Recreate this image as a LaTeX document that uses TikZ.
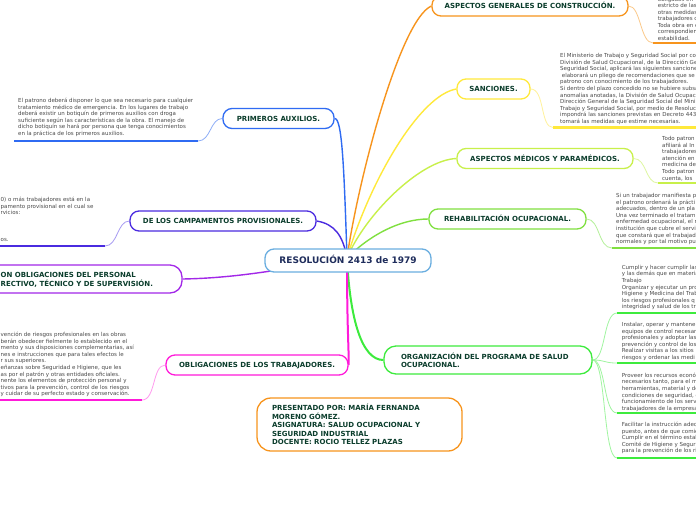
\documentclass[tikz,border=0pt]{standalone}
\usepackage{fontspec}
\setmainfont{DejaVu Sans}
\usetikzlibrary{backgrounds}
\definecolor{cOrange}{HTML}{F7941D}
\definecolor{cOrangeL}{HTML}{FBC98A}
\definecolor{cYellow}{HTML}{FFE93B}
\definecolor{cYellowL}{HTML}{FFF29A}
\definecolor{cLime}{HTML}{C8F04A}
\definecolor{cLimeL}{HTML}{DDF7A0}
\definecolor{cGreen}{HTML}{80E040}
\definecolor{cGreenL}{HTML}{B5F09A}
\definecolor{cBright}{HTML}{3DEB3D}
\definecolor{cBrightL}{HTML}{A0F5A0}
\definecolor{cBlue}{HTML}{2F6BF2}
\definecolor{cBlueL}{HTML}{8EAEF7}
\definecolor{cIndigo}{HTML}{4A2BE0}
\definecolor{cIndigoL}{HTML}{A79BF2}
\definecolor{cPurple}{HTML}{A227E8}
\definecolor{cMagenta}{HTML}{FF1AD9}
\definecolor{cMagentaL}{HTML}{FF9BEF}
\definecolor{cCenter}{HTML}{6AAEE0}
\definecolor{ttl}{HTML}{0B3D2C}
\definecolor{navy}{HTML}{1F2D5C}
\definecolor{bodyc}{HTML}{4A4A4A}
\newcommand\bodyfnt{\fontsize{5.5pt}{6.55pt}\selectfont}
\newcommand\ttlfnt{\fontsize{7pt}{8.5pt}\selectfont\bfseries}
\newcommand\firststrut{\rule{0pt}{5pt}}
\begin{document}
\begin{tikzpicture}[x=1pt,y=-1pt,
  topic/.style={draw, line width=1.3pt, rounded corners=9pt, fill=white, font=\ttlfnt, text=ttl, inner sep=0pt, minimum height=20pt, text height=5.1pt, text depth=0pt},
  multitopic/.style={draw, line width=1.3pt, fill=white, font=\ttlfnt, text=ttl, align=left, inner ysep=0pt},
  body/.style={anchor=north west, inner sep=0pt, align=left, font=\bodyfnt, text=bodyc},
  branch/.style={line width=1.4pt},
  thickbranch/.style={line width=2pt},
  sub/.style={line width=0.8pt},
  uline/.style={line width=2.2pt}
]
\useasboundingbox (0,0) rectangle (696,520);

% ---------- topic nodes ----------
\node[topic, draw=cOrange, minimum width=196pt] (gen) at (530,6) {ASPECTOS GENERALES DE CONSTRUCCIÓN.};
\node[topic, draw=cYellow, minimum width=73pt] (sanc) at (493.5,89) {SANCIONES.};
\node[topic, draw=cLime, minimum width=176pt] (med) at (545,158.5) {ASPECTOS MÉDICOS Y PARAMÉDICOS.};
\node[topic, draw=cGreen, minimum width=157pt] (rehab) at (507.5,219) {REHABILITACIÓN OCUPACIONAL.};
\node[multitopic, draw=cBright, rounded corners=12pt, text width=174pt, inner xsep=17pt, minimum height=28pt, font=\fontsize{7pt}{8pt}\selectfont\bfseries] (org) at (488,360) {ORGANIZACIÓN DEL PROGRAMA DE SALUD\\OCUPACIONAL.};
\node[multitopic, draw=cOrange, rounded corners=14pt, text width=175pt, inner xsep=15pt, minimum height=53pt] (pres) at (359.5,424.5) {PRESENTADO POR: MARÍA FERNANDA\\MORENO GÓMEZ.\\ASIGNATURA: SALUD OCUPACIONAL Y\\SEGURIDAD INDUSTRIAL\\DOCENTE: ROCIO TELLEZ PLAZAS};
\node[topic, draw=cBlue, minimum width=111pt] (prim) at (278.5,118.5) {PRIMEROS AUXILIOS.};
\node[topic, draw=cIndigo, minimum width=186pt] (camp) at (223,221) {DE LOS CAMPAMENTOS PROVISIONALES.};
\node[multitopic, draw=cPurple, rounded corners=12pt, minimum width=222pt, minimum height=28pt] (pers) at (71,279) {};
\node[anchor=north west, inner sep=0pt, align=left, font=\fontsize{7pt}{9pt}\selectfont\bfseries, text=ttl] (perstext) at (0.5,271) {\rule{0pt}{6.5pt}ON OBLIGACIONES DEL PERSONAL\\RECTIVO, TÉCNICO Y DE SUPERVISIÓN.};
\node[topic, draw=cMagenta, minimum width=182pt] (trab) at (257,365) {OBLIGACIONES DE LOS TRABAJADORES.};
\node[draw=cCenter, line width=1.3pt, rounded corners=9pt, fill=white, minimum width=166pt, minimum height=23pt, inner sep=0pt, font=\fontsize{9pt}{10pt}\selectfont\bfseries, text=navy, text height=6.5pt, text depth=0pt] (center) at (348,260.5) {RESOLUCIÓN 2413 de 1979};

% ---------- coordinates ----------
\coordinate (c) at (347,258);
\coordinate (genU) at (653,43);   \coordinate (genE) at (700,43);
\coordinate (sancU) at (553,127.5); \coordinate (sancE) at (700,127.5);
\coordinate (medU) at (658,183);  \coordinate (medE) at (700,183);
\coordinate (rehabU) at (612,248); \coordinate (rehabE) at (700,248);
\coordinate (orgU1) at (617,313); \coordinate (orgE1) at (700,313);
\coordinate (orgU2) at (617,363); \coordinate (orgE2) at (700,363);
\coordinate (orgU3) at (617,413); \coordinate (orgE3) at (700,413);
\coordinate (orgU4) at (617,458); \coordinate (orgE4) at (700,458);
\coordinate (primU) at (198,141); \coordinate (primE) at (14,141);
\coordinate (campU) at (105,246); \coordinate (campE) at (-5,246);
\coordinate (trabU) at (142,400); \coordinate (trabE) at (-5,400);

% ---------- body texts ----------
\node[body] (gentext) at (657.7,-4) {\firststrut obligados en\\estricto de las\\otras medidas\\trabajadores c\\Toda obra en e\\correspondien\\estabilidad.};
\node[body] (sanctext) at (560,52.5) {\firststrut El Ministerio de Trabajo y Seguridad Social por co\\División de Salud Ocupacional, de la Dirección Ge\\Seguridad Social, aplicará las siguientes sancione\\\ elaborará un pliego de recomendaciones que se\\patrono con conocimiento de los trabajadores.\\Si dentro del plazo concedido no se hubiere subsa\\anomalías anotadas, la División de Salud Ocupac\\Dirección General de la Seguridad Social del Mini\\Trabajo y Seguridad Social, por medio de Resoluc\\impondrá las sanciones previstas en Decreto 443\\tomará las medidas que estime necesarias.};
\node[body] (medtext) at (662,135.5) {\firststrut Todo patron\\afiliará al In\\trabajadores\\atención en\\medicina de\\Todo patron\\cuenta, los};
\node[body] (rehabtext) at (616,192.5) {\firststrut Si un trabajador manifiesta p\\el patrono ordenará la prácti\\adecuados, dentro de un pla\\Una vez terminado el tratam\\enfermedad ocupacional, el m\\institución que cubre el servi\\que constará que el trabajad\\normales y por tal motivo pu};
\node[body] (orgtext1) at (621.7,264.2) {\firststrut Cumplir y hacer cumplir las\\y las demás que en materia\\Trabajo\\Organizar y ejecutar un pro\\Higiene y Medicina del Trab\\los riesgos profesionales q\\integridad y salud de los tr};
\node[body] (orgtext2) at (621.7,321.5) {\firststrut Instalar, operar y mantener\\equipos de control necesar\\profesionales y adoptar las\\prevención y control de los\\Realizar visitas a los sitios\\riesgos y ordenar las medi};
\node[body] (orgtext3) at (621.7,372.2) {\firststrut Proveer los recursos económ\\necesarios tanto, para el m\\herramientas, material y de\\condiciones de seguridad, c\\funcionamiento de los serv\\trabajadores de la empresa};
\node[body] (orgtext4) at (621.7,421.5) {\firststrut Facilitar la instrucción adec\\puesto, antes de que comie\\Cumplir en el término estab\\Comité de Higiene y Segur\\para la prevención de los ri};
\node[body] (primtext) at (18,97.5) {\firststrut El patrono deberá disponer lo que sea necesario para cualquier\\tratamiento médico de emergencia. En los lugares de trabajo\\deberá existir un botiquín de primeros auxilios con droga\\suficiente según las características de la obra. El manejo de\\dicho botiquín se hará por persona que tenga conocimientos\\en la práctica de los primeros auxilios.};
\node[body] (camptext) at (0.5,196.5) {\firststrut 0) o más trabajadores está en la\\pamento provisional en el cual se\\rvicios:\\\mbox{}\\\mbox{}\\\mbox{}\\os.};
\node[body] (trabtext) at (0.5,331.5) {\firststrut vención de riesgos profesionales en las obras\\berán obedecer fielmente lo establecido en el\\mento y sus disposiciones complementarias, así\\nes e instrucciones que para tales efectos le\\r sus superiores.\\eñanzas sobre Seguridad e Higiene, que les\\as por el patrón y otras entidades oficiales.\\nente los elementos de protección personal y\\tivos para la prevención, control de los riesgos\\y cuidar de su perfecto estado y conservación.};

% ---------- connectors ----------
\begin{scope}[on background layer]
\fill[white] (-10,-10) rectangle (710,530);
% main branches
\draw[branch, cOrange] (c) .. controls (358,180) and (400,20) .. (gen.west);
\draw[branch, cYellow] (c) .. controls (370,180) and (420,95) .. (sanc.west);
\draw[branch, cLime] (c) .. controls (365,215) and (420,160) .. (med.west);
\draw[branch, cGreen] (c) .. controls (370,235) and (400,219) .. (rehab.west);
\draw[thickbranch, cBright] (c) .. controls (350,320) and (362,360) .. (org.west);
\draw[thickbranch, cMagenta] (c) .. controls (347,330) and (349,350) .. (trab.east);
\draw[branch, cBlue] (prim.east) .. controls (342,118) and (344,165) .. (c);
\draw[branch, cIndigo] (camp.east) .. controls (335,224) and (343,236) .. (c);
\draw[branch, cPurple] (pers.east) .. controls (240,278) and (290,268) .. (c);
% sub branches right
\draw[sub, cOrangeL] (gen.east) .. controls (641,6) and (640,43) .. (genU);
\draw[uline, cOrange] (genU) -- (genE);
\draw[sub, cYellowL] (sanc.east) .. controls (545,89) and (540,127.5) .. (sancU);
\draw[uline, cYellow] (sancU) -- (sancE);
\draw[sub, cLimeL] (med.east) .. controls (647,158.5) and (645,183) .. (medU);
\draw[uline, cLime] (medU) -- (medE);
\draw[sub, cGreenL] (rehab.east) .. controls (600,219) and (598,248) .. (rehabU);
\draw[uline, cGreen] (rehabU) -- (rehabE);
\draw[sub, cBrightL] (org.east) .. controls (606,360) and (603,313) .. (orgU1);
\draw[sub, cBrightL] (org.east) .. controls (606,360) and (603,363) .. (orgU2);
\draw[sub, cBrightL] (org.east) .. controls (606,360) and (603,413) .. (orgU3);
\draw[sub, cBrightL] (org.east) .. controls (606,360) and (603,458) .. (orgU4);
\draw[uline, cBright] (orgU1) -- (orgE1);
\draw[uline, cBright] (orgU2) -- (orgE2);
\draw[uline, cBright] (orgU3) -- (orgE3);
\draw[uline, cBright] (orgU4) -- (orgE4);
% sub branches left
\draw[sub, cBlueL] (prim.west) .. controls (210,118.5) and (211,141) .. (primU);
\draw[uline, cBlue] (primU) -- (primE);
\draw[sub, cIndigoL] (camp.west) .. controls (117,221) and (118,246) .. (campU);
\draw[uline, cIndigo] (campU) -- (campE);
\draw[sub, cMagentaL] (trab.west) .. controls (152,365) and (156,400) .. (trabU);
\draw[uline, cMagenta] (trabU) -- (trabE);
\end{scope}
\end{tikzpicture}
\end{document}
